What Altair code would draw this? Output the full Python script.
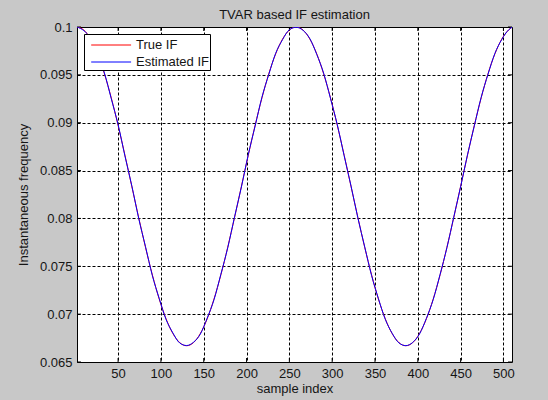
import altair as alt
import pandas as pd

sample_index = list(range(2, 507, 8)) + [510]

true_if = [
    0.1000, 0.09968, 0.09873, 0.09719, 0.09512, 0.09260, 0.08972, 0.08660,
    0.08335, 0.08010, 0.07698, 0.07410, 0.07158, 0.06951, 0.06797, 0.06702,
    0.06670, 0.06702, 0.06797, 0.06951, 0.07158, 0.07410, 0.07698, 0.08010,
    0.08335, 0.08660, 0.08972, 0.09260, 0.09512, 0.09719, 0.09873, 0.09968,
    0.1000, 0.09968, 0.09873, 0.09719, 0.09512, 0.09260, 0.08972, 0.08660,
    0.08335, 0.08010, 0.07698, 0.07410, 0.07158, 0.06951, 0.06797, 0.06702,
    0.06670, 0.06702, 0.06797, 0.06951, 0.07158, 0.07410, 0.07698, 0.08010,
    0.08335, 0.08660, 0.08972, 0.09260, 0.09512, 0.09719, 0.09873, 0.09968,
    0.09998,
]

estimated_if = [
    0.1000, 0.09962, 0.09880, 0.09712, 0.09520, 0.09252, 0.08980, 0.08652,
    0.08341, 0.08003, 0.07705, 0.07403, 0.07164, 0.06945, 0.06803, 0.06698,
    0.06672, 0.06706, 0.06791, 0.06957, 0.07151, 0.07416, 0.07692, 0.08016,
    0.08329, 0.08666, 0.08965, 0.09267, 0.09505, 0.09725, 0.09867, 0.09972,
    0.09997, 0.09965, 0.09877, 0.09714, 0.09518, 0.09255, 0.08978, 0.08655,
    0.08339, 0.08006, 0.07703, 0.07405, 0.07162, 0.06947, 0.06801, 0.06699,
    0.06671, 0.06704, 0.06793, 0.06955, 0.07153, 0.07414, 0.07694, 0.08014,
    0.08331, 0.08664, 0.08967, 0.09265, 0.09507, 0.09723, 0.09869, 0.09970,
    0.09997,
]

series_names = ["True IF", "Estimated IF"]
series_colors = ["#ff0000", "#0000ff"]
x_ticks = [50, 100, 150, 200, 250, 300, 350, 400, 450, 500]
y_ticks = [0.065, 0.07, 0.075, 0.08, 0.085, 0.09, 0.095, 0.1]
x_domain = [2, 510]
y_domain = [0.065, 0.1]

FONT = "Liberation Sans"
FS = 13
TXT = "#151515"
W, H = 435, 335
PAD = {"left": 77, "top": 27, "right": 36, "bottom": 38}

df_true = pd.DataFrame({"n": sample_index, "f": true_if, "series": series_names[0]})
df_est = pd.DataFrame({"n": sample_index, "f": estimated_if, "series": series_names[1]})
df_xt = pd.DataFrame({"t": x_ticks})
df_yt = pd.DataFrame({"v": y_ticks})

xscale = alt.Scale(domain=x_domain, nice=False, zero=False)
yscale = alt.Scale(domain=y_domain, nice=False, zero=False)
cscale = alt.Scale(domain=series_names, range=series_colors)

x_axis = alt.Axis(
    values=x_ticks, title="sample index", grid=True, gridColor="black",
    gridDash=[3, 2], gridOpacity=1, gridWidth=1, ticks=False, domain=False,
    labelFont=FONT, labelFontSize=FS, labelColor=TXT, labelPadding=5,
    titleFont=FONT, titleFontSize=FS, titleFontWeight="normal", titleColor=TXT,
    titleY=20, titleBaseline="top",
)
y_axis = alt.Axis(
    values=y_ticks, title="Instantaneous frequency", format=".3~f", grid=True,
    gridColor="black", gridDash=[3, 2], gridOpacity=1, gridWidth=1, ticks=False,
    domain=False, labelFont=FONT, labelFontSize=FS, labelColor=TXT,
    labelPadding=5, titleFont=FONT, titleFontSize=FS, titleFontWeight="normal",
    titleColor=TXT, titleX=-54, titleY=H / 2, titleAngle=270,
    titleAlign="center", titleBaseline="middle",
)

legend = alt.Legend(
    title=None, orient="none", legendX=7, legendY=7, fillColor="white",
    strokeColor="black", padding=1, symbolType="M-0.4,0H3.8", symbolSize=361,
    symbolStrokeWidth=1, labelOffset=31, labelFontSize=FS, labelFont=FONT,
    labelColor=TXT, rowPadding=0, cornerRadius=0,
    labelExpr="datum.label + '\u00a0\u00a0'",
)

X_T = alt.X("t:Q", scale=xscale, axis=x_axis)
Y_V = alt.Y("v:Q", scale=yscale, axis=y_axis)

xt_bottom = alt.Chart(df_xt).mark_rule(color="black", strokeWidth=1).encode(
    x=X_T, y=alt.value(H - 4), y2=alt.value(H))
xt_top = alt.Chart(df_xt).mark_rule(color="black", strokeWidth=1).encode(
    x=X_T, y=alt.value(0), y2=alt.value(4))
yt_left = alt.Chart(df_yt).mark_rule(color="black", strokeWidth=1).encode(
    y=Y_V, x=alt.value(0), x2=alt.value(4))
yt_right = alt.Chart(df_yt).mark_rule(color="black", strokeWidth=1).encode(
    y=Y_V, x=alt.value(W - 4), x2=alt.value(W))

line_true = alt.Chart(df_true).mark_line(strokeWidth=1, interpolate="monotone", clip=True).encode(
    x=alt.X("n:Q", scale=xscale, axis=x_axis),
    y=alt.Y("f:Q", scale=yscale, axis=y_axis),
    color=alt.Color("series:N", scale=cscale, legend=legend, sort=series_names),
)
line_est = alt.Chart(df_est).mark_line(strokeWidth=1, interpolate="monotone", clip=True).encode(
    x=alt.X("n:Q", scale=xscale, axis=x_axis),
    y=alt.Y("f:Q", scale=yscale, axis=y_axis),
    color=alt.Color("series:N", scale=cscale, legend=legend, sort=series_names),
)

chart = alt.layer(xt_bottom, xt_top, yt_left, yt_right, line_true, line_est).properties(
    width=W, height=H,
    title=alt.TitleParams("TVAR based IF estimation", font=FONT, fontSize=FS,
                          fontWeight="normal", color=TXT, offset=3, dy=4,
                          anchor="middle", frame="group"),
    autosize=alt.AutoSizeParams(type="none"),
    padding=PAD,
).configure(background="#c8c8c8").configure_view(fill="white", stroke="black", strokeWidth=1)

chart.save("out.html", embed_options={"renderer": "svg", "actions": False})
